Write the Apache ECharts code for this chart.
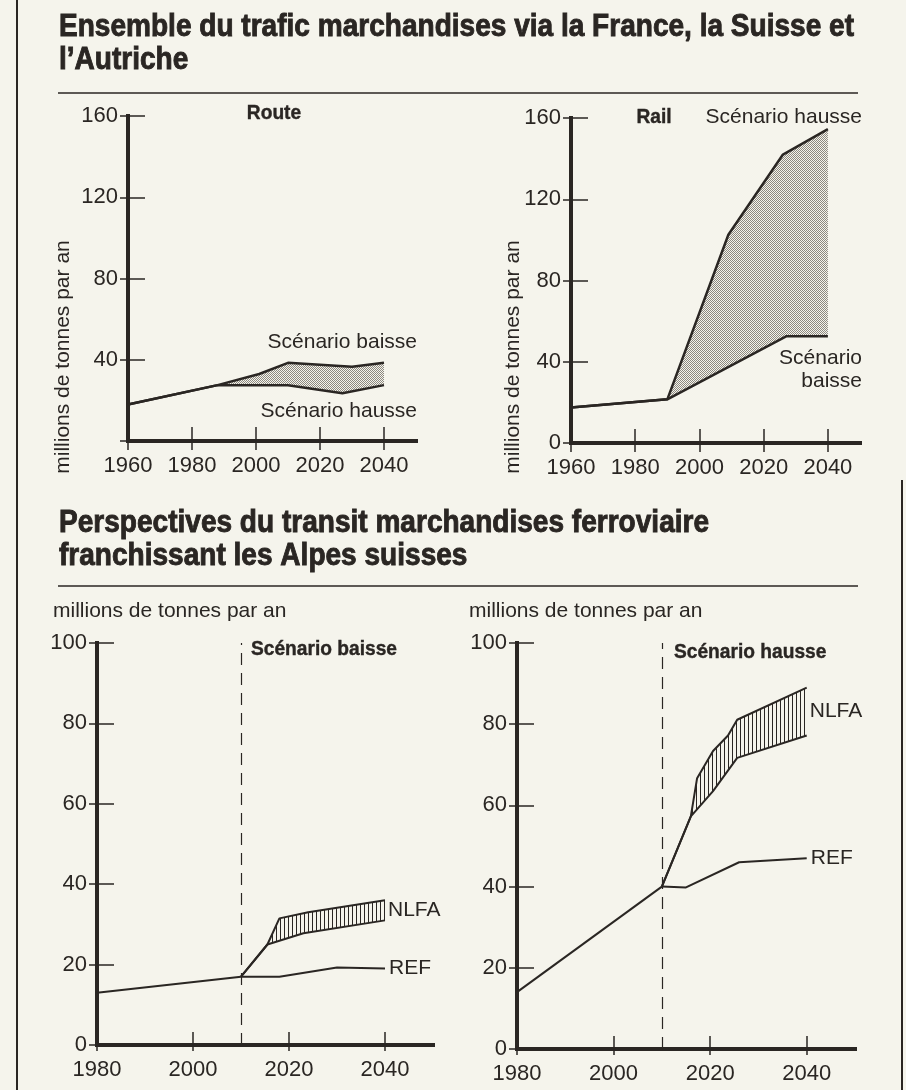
<!DOCTYPE html>
<html lang="fr">
<head>
  <meta charset="UTF-8">
  <title>Trafic marchandises</title>
  <script src="https://cdn.jsdelivr.net/npm/echarts@6/dist/echarts.min.js"></script>
  <style>
    * { margin: 0; padding: 0; }
    body { background: #f5f4ec; }
    #main { width: 906px; height: 1090px; }
  </style>
</head>
<body>
  <div id="main"></div>
  <script>
    // --- données ---
    // Route (haut gauche)
    var routeHausse = [[1960, 18], [1988, 27.5], [2010, 27.5], [2027, 23.5], [2040, 27.5]];
    var routeBaisse = [[1960, 18], [1988, 27.5], [2001, 33], [2010, 38.5], [2030, 36.5], [2040, 38.5]];
    // Rail (haut droite)
    var railHausse = [[1960, 17.5], [1990, 21.5], [2009, 102.5], [2026, 142], [2040, 154.5]];
    var railBaisse = [[1960, 17.5], [1990, 21.5], [2027, 52.5], [2040, 52.5]];
    // Transit ferroviaire, scénario baisse (bas gauche)
    var baisseBase = [[1980, 13], [2010, 17]];
    var baisseRef = [[2010, 17], [2018, 17], [2030, 19.3], [2040, 19]];
    var baisseNlfaHaut = [[2010, 17], [2015.5, 25], [2018, 31.5], [2024, 33], [2040, 36]];
    var baisseNlfaBas = [[2010, 17], [2015.5, 25], [2023, 27.8], [2040, 31]];
    // Transit ferroviaire, scénario hausse (bas droite)
    var hausseBase = [[1980, 14], [2010, 40]];
    var hausseRef = [[2010, 40], [2015, 39.8], [2026, 46], [2040, 47]];
    var hausseNlfaHaut = [[2010, 40], [2016, 57.3], [2017.3, 66.7], [2020.6, 73.4], [2023.7, 77.2], [2025.6, 81.1], [2040, 89]];
    var hausseNlfaBas = [[2010, 40], [2016, 57.3], [2020.6, 63.5], [2025.6, 71.7], [2040, 77.2]];

    var topYears = [1960, 1980, 2000, 2020, 2040];
    var bottomYears = [1980, 2000, 2020, 2040];
    var topTicks = [0, 40, 80, 120, 160];
    var routeLabels = [40, 80, 120, 160];
    var railLabels = [0, 40, 80, 120, 160];
    var bottomTicks = [0, 20, 40, 60, 80, 100];
    var splitYear = 2010;

    var ink = '#2a2623';
    var sans = '"Liberation Sans", Arial, sans-serif';

    // motifs de remplissage
    function stipple() {
      var c = document.createElement('canvas');
      c.width = 2; c.height = 2;
      var g = c.getContext('2d');
      g.fillStyle = '#8c8880';
      g.fillRect(0, 0, 1, 1);
      g.fillRect(1, 1, 1, 1);
      return c;
    }
    function hatch() {
      var c = document.createElement('canvas');
      c.width = 4; c.height = 4;
      var g = c.getContext('2d');
      g.fillStyle = ink;
      g.fillRect(0, 0, 1, 4);
      return c;
    }
    var dots = { image: stipple(), repeat: 'repeat' };
    var lines = { image: hatch(), repeat: 'repeat' };

    // largeur d'un texte, pour imiter une police étroite
    var ctx = document.createElement('canvas').getContext('2d');
    function measure(s, size) {
      ctx.font = 'bold ' + size + 'px "Liberation Sans", Arial, sans-serif';
      return ctx.measureText(s).width;
    }

    // grilles
    var grids = [
      { left: 128, top: 116, width: 288, height: 325 },
      { left: 571, top: 118, width: 289, height: 325 },
      { left: 97, top: 643, width: 336, height: 402 },
      { left: 517, top: 643, width: 338, height: 406 }
    ];
    var axes = [
      { xmin: 1960, ymax: 160, xt: topYears, yt: topTicks, yl: routeLabels, xin: 14, xout: 9 },
      { xmin: 1960, ymax: 160, xt: topYears, yt: topTicks, yl: railLabels, xin: 14, xout: 9 },
      { xmin: 1980, ymax: 100, xt: bottomYears, yt: bottomTicks, yl: bottomTicks, xin: 13, xout: 6 },
      { xmin: 1980, ymax: 100, xt: bottomYears, yt: bottomTicks, yl: bottomTicks, xin: 13, xout: 6 }
    ];
    var plain = function (v) { return String(v); };

    var xAxis = [], yAxis = [];
    axes.forEach(function (a, i) {
      // axe principal (trait, graduations extérieures, libellés)
      xAxis.push({
        type: 'value', gridIndex: i, min: a.xmin, max: 2050, position: 'bottom',
        axisLine: { show: true, onZero: false, lineStyle: { color: ink, width: 4, cap: 'square' } },
        axisTick: { show: true, inside: false, length: a.xout, customValues: a.xt, lineStyle: { color: ink, width: 1.5 } },
        axisLabel: { show: true, customValues: a.xt, formatter: plain, margin: 14, color: ink, fontSize: 22, fontFamily: sans },
        splitLine: { show: false }
      });
      // axe superposé pour la partie intérieure des graduations
      xAxis.push({
        type: 'value', gridIndex: i, min: a.xmin, max: 2050, position: 'bottom',
        axisLine: { show: false },
        axisTick: { show: true, inside: true, length: a.xin, customValues: a.xt.slice(1), lineStyle: { color: ink, width: 1.5 } },
        axisLabel: { show: false },
        splitLine: { show: false }
      });
      yAxis.push({
        type: 'value', gridIndex: i, min: 0, max: a.ymax, position: 'left',
        axisLine: { show: true, onZero: false, lineStyle: { color: ink, width: 4, cap: 'square' } },
        axisTick: { show: true, inside: false, length: 8, customValues: a.yt, lineStyle: { color: ink, width: 1.5 } },
        axisLabel: { show: true, customValues: a.yl, formatter: plain, margin: 10, color: ink, fontSize: 22, fontFamily: sans },
        splitLine: { show: false }
      });
      yAxis.push({
        type: 'value', gridIndex: i, min: 0, max: a.ymax, position: 'left',
        axisLine: { show: false },
        axisTick: { show: true, inside: true, length: 17, customValues: a.yt.slice(1), lineStyle: { color: ink, width: 1.5 } },
        axisLabel: { show: false },
        splitLine: { show: false }
      });
    });

    function line(i, data, w, extra) {
      var s = {
        type: 'line', xAxisIndex: 2 * i, yAxisIndex: 2 * i, data: data,
        symbol: 'none', z: 4, silent: true,
        lineStyle: { color: ink, width: w }
      };
      return Object.assign(s, extra || {});
    }

    // zone entre deux courbes, dessinée avec les coordonnées de l'axe
    function band(i, upper, lower, fill, label) {
      return {
        type: 'custom', xAxisIndex: 2 * i, yAxisIndex: 2 * i, data: [0], z: 2, silent: true,
        renderItem: function (params, api) {
          var pts = upper.concat(lower.slice().reverse()).map(function (p) { return api.coord(p); });
          var kids = [{ type: 'polygon', shape: { points: pts }, style: { fill: fill } }];
          if (label) {
            var a = upper[upper.length - 1], b = lower[lower.length - 1];
            var c = api.coord([a[0], (a[1] + b[1]) / 2]);
            kids.push({
              type: 'text', x: c[0] + 3, y: c[1],
              style: { text: label, fill: ink, fontSize: 21, fontFamily: sans, align: 'left', verticalAlign: 'middle' }
            });
          }
          return { type: 'group', children: kids };
        }
      };
    }

    var refLabel = { show: true, formatter: 'REF', distance: 4, color: ink, fontSize: 21, fontFamily: sans };
    var split = {
      silent: true, symbol: 'none', label: { show: false },
      lineStyle: { type: [12, 8], color: ink, width: 1.2 },
      data: [{ xAxis: splitYear }]
    };

    var series = [
      band(0, routeBaisse.slice(1), routeHausse.slice(1), dots),
      line(0, routeHausse, 2.5),
      line(0, routeBaisse, 2.5),
      band(1, railHausse.slice(1), railBaisse.slice(1), dots),
      line(1, railHausse, 2.5),
      line(1, railBaisse, 2.5),
      band(2, baisseNlfaHaut.slice(1), baisseNlfaBas.slice(1), lines, 'NLFA'),
      line(2, baisseBase, 2, { markLine: split }),
      line(2, baisseRef, 2, { endLabel: refLabel }),
      line(2, baisseNlfaHaut, 2),
      line(2, baisseNlfaBas, 2),
      band(3, hausseNlfaHaut.slice(1), hausseNlfaBas.slice(1), lines, 'NLFA'),
      line(3, hausseBase, 2, { markLine: split }),
      line(3, hausseRef, 2, { endLabel: refLabel }),
      line(3, hausseNlfaHaut, 2),
      line(3, hausseNlfaBas, 2)
    ];

    function txt(s, x, y, size, opts) {
      opts = opts || {};
      return {
        type: 'text', x: x, y: y, rotation: opts.rot || 0, silent: true,
        style: {
          text: s, fill: ink, fontSize: size, fontFamily: sans, fontWeight: 'normal',
          align: opts.align || 'left', verticalAlign: 'middle'
        }
      };
    }
    // titre gras compressé horizontalement (un léger contour l'épaissit)
    function bold(s, x, y, size, sx, align, lw) {
      return {
        type: 'text', x: x, y: y, scaleX: sx, scaleY: 1, silent: true,
        style: {
          text: s, fill: ink, stroke: ink, lineWidth: lw, fontSize: size, fontFamily: sans, fontWeight: 'bold',
          align: align || 'left', verticalAlign: 'middle'
        }
      };
    }
    function rule(x1, y1, x2, y2, w) {
      return { type: 'line', silent: true, shape: { x1: x1, y1: y1, x2: x2, y2: y2 }, style: { stroke: ink, lineWidth: w } };
    }

    var t1 = 'Ensemble du trafic marchandises via la France, la Suisse et';
    var titleScale = 795 / measure(t1, 31);
    var subScale = 146 / measure('Scénario baisse', 21);

    var graphic = [
      rule(17, 0, 17, 1090, 2),
      rule(902, 480, 902, 1090, 2),
      bold(t1, 59, 27, 31, titleScale, 'left', 0.9),
      bold('l’Autriche', 59, 60, 31, titleScale, 'left', 0.9),
      rule(58, 93, 858, 93, 1.5),
      bold('Perspectives du transit marchandises ferroviaire', 59, 523, 31, titleScale, 'left', 0.9),
      bold('franchissant les Alpes suisses', 59, 556, 31, titleScale, 'left', 0.9),
      rule(58, 586, 858, 586, 1.5),

      bold('Route', 274, 113, 21, subScale, 'center', 0.4),
      txt('Scénario baisse', 417, 342, 21, { align: 'right' }),
      txt('Scénario hausse', 417, 411, 21, { align: 'right' }),
      txt('millions de tonnes par an', 63, 357, 21, { align: 'center', rot: Math.PI / 2 }),

      bold('Rail', 654, 117, 21, subScale, 'center', 0.4),
      txt('Scénario hausse', 862, 117, 21, { align: 'right' }),
      txt('Scénario', 862, 358, 21, { align: 'right' }),
      txt('baisse', 862, 381, 21, { align: 'right' }),
      txt('millions de tonnes par an', 513, 357, 21, { align: 'center', rot: Math.PI / 2 }),

      txt('millions de tonnes par an', 53, 611, 21),
      bold('Scénario baisse', 251, 649, 21, subScale, 'left', 0.4),
      txt('millions de tonnes par an', 469, 611, 21),
      bold('Scénario hausse', 674, 652, 21, subScale, 'left', 0.4)
    ];

    var chart = echarts.init(document.getElementById('main'));
    chart.setOption({
      backgroundColor: '#f5f4ec',
      animation: false,
      grid: grids,
      xAxis: xAxis,
      yAxis: yAxis,
      series: series,
      graphic: graphic
    });
  </script>
</body>
</html>
